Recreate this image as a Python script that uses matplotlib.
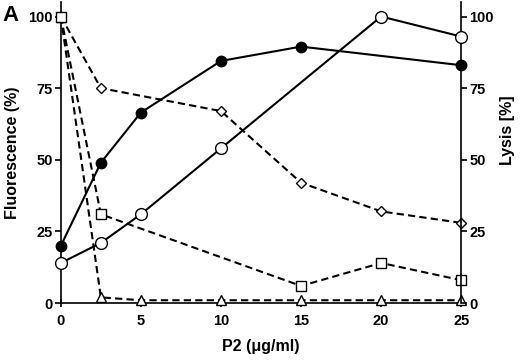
import matplotlib
matplotlib.use('Agg')
import matplotlib.pyplot as plt

plt.rcParams['font.family'] = ['Liberation Sans', 'DejaVu Sans']
plt.rcParams['font.weight'] = 'bold'

# P2 concentration (ug/ml)
conc = [0, 2.5, 5, 10, 15, 20, 25]

# lysis (%), right axis, solid lines
lysis_filled = [20, 49, 66.5, 84.5, 89.5, None, 83]
lysis_open = [14, 21, 31, 54, None, 100, 93]

# fluorescence (%), left axis, dashed lines
fluo_diamond = [100, 75, None, 67, 42, 32, 28]
fluo_square = [100, 31, None, None, 6, 14, 8]
fluo_triangle = [100, 2, 1, 1, 1, 1, 1]


def pts(xs, ys):
    pairs = [(x, y) for x, y in zip(xs, ys) if y is not None]
    return [p[0] for p in pairs], [p[1] for p in pairs]


fig = plt.figure(figsize=(5.2, 3.63), dpi=100)
ax = fig.add_axes([0.117, 0.165, 0.77, 0.829])
ax2 = ax.twinx()

dash = dict(color='black', lw=1.5, ls=(0, (3.5, 2)), clip_on=False, mfc='white', mec='black', mew=1.0)
x, y = pts(conc, fluo_diamond)
ax.plot(x, y, marker='D', ms=5.5, **dash, zorder=3)
x, y = pts(conc, fluo_triangle)
ax.plot(x, y, marker='^', ms=6.5, **dash, zorder=3)
x, y = pts(conc, fluo_square)
ax.plot(x, y, marker='s', ms=7.5, **dash, zorder=4)

solid = dict(color='black', lw=1.5, clip_on=False, mec='black', mew=1.0)
x, y = pts(conc, lysis_open)
ax2.plot(x, y, marker='o', ms=8.5, mfc='white', **solid, zorder=3)
x, y = pts(conc, lysis_filled)
ax2.plot(x, y, marker='o', ms=7.5, mfc='black', **solid, zorder=3)

for a in (ax, ax2):
    a.set_xlim(0, 25)
    a.set_ylim(0, 105)
    a.set_yticks([0, 25, 50, 75, 100])
    a.spines['top'].set_visible(False)
    for s in a.spines.values():
        s.set_linewidth(1.2)
    a.tick_params(width=1.2, length=4, labelsize=10.5, pad=2)

ax.spines['right'].set_visible(False)
ax2.spines['left'].set_visible(False)
ax2.spines['bottom'].set_visible(False)
ax.set_xticks(conc[:1] + conc[2:])
ax.tick_params(axis='x', direction='inout', length=6, pad=5)

ax.set_xlabel('P2 (\u03bcg/ml)', fontsize=11.5, fontweight='bold', labelpad=8)
ax.set_ylabel('Fluorescence (%)', fontsize=11.5, fontweight='bold', labelpad=6)
ax2.set_ylabel('Lysis [%]', fontsize=11.5, fontweight='bold')
ax2.yaxis.set_label_coords(1.0975, 0.575)
fig.text(0.005, 0.985, 'A', fontsize=16, fontweight='bold', va='top', ha='left')

fig.savefig('out.png', dpi=100)
